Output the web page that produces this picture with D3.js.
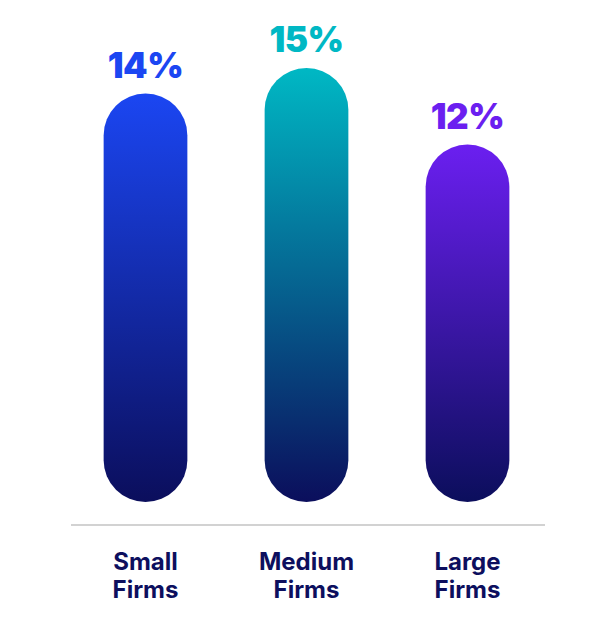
<!DOCTYPE html>
<html>
<head>
<meta charset="utf-8">
<script src="https://cdn.jsdelivr.net/npm/d3@7"></script>
<style>
	body { margin: 0; background: #ffffff; }
	svg { display: block; }
</style>
</head>
<body>
<div id="chart"></div>
<script>
// chart data
const categories = ["Small Firms", "Medium Firms", "Large Firms"];
const values = [14, 15, 12];
const topColors = ["#1b46f2", "#00b8c4", "#6b1ff0"];
const bottomColor = "#0b0e5c";

// set the dimensions of the graph
let width = 616,
	height = 630;

var svg = d3.select("#chart")
	.append("svg")
	.attr("width", width)
	.attr("height", height);

// X scale: one band per category
var x = d3.scaleBand()
	.domain(categories)
	.range([65, 548])
	.paddingInner(0.48)
	.paddingOuter(0.24);

// Y scale (bars rise from the bottom)
var y = d3.scaleLinear()
	.domain([-2, 15])
	.range([502, 68]);

// vertical gradients, one per bar
var defs = svg.append("defs");
categories.forEach(function(c, i) {
	let g = defs.append("linearGradient")
		.attr("id", "grad" + i)
		.attr("x1", 0).attr("y1", 0)
		.attr("x2", 0).attr("y2", 1);
	g.append("stop").attr("offset", "0%").attr("stop-color", topColors[i]);
	g.append("stop").attr("offset", "100%").attr("stop-color", bottomColor);
});

// rounded pill bars
svg.selectAll("rect.bar")
	.data(values)
	.enter()
	.append("rect")
		.attr("class", "bar")
		.attr("x", (d, i) => x(categories[i]))
		.attr("width", x.bandwidth())
		.attr("y", d => y(d))
		.attr("height", d => y(-2) - y(d))
		.attr("rx", x.bandwidth() / 2)
		.attr("ry", x.bandwidth() / 2)
		.attr("fill", (d, i) => "url(#grad" + i + ")");

// value labels above bars
svg.selectAll("text.value")
	.data(values)
	.enter()
	.append("text")
		.attr("class", "value")
		.attr("x", (d, i) => x(categories[i]) + x.bandwidth() / 2)
		.attr("y", d => y(d) - 16)
		.attr("text-anchor", "middle")
		.style("font-family", "Inter, 'Noto Sans', sans-serif")
		.style("font-weight", 900)
		.style("font-size", "35px")
		.style("letter-spacing", "-0.5px")
		.style("fill", (d, i) => topColors[i])
		.text(d => d + "%");

// baseline
svg.append("line")
	.attr("x1", 71)
	.attr("x2", 545)
	.attr("y1", 525)
	.attr("y2", 525)
	.style("stroke", "#d2d2d2")
	.style("stroke-width", 2);

// category labels on two lines
var labels = svg.selectAll("text.cat")
	.data(categories)
	.enter()
	.append("text")
		.attr("class", "cat")
		.attr("x", d => x(d) + x.bandwidth() / 2)
		.attr("y", 570)
		.attr("text-anchor", "middle")
		.style("font-family", "Inter, 'Noto Sans', sans-serif")
		.style("font-weight", 700)
		.style("font-size", "24px")
		.style("fill", "#0d0f5e");

labels.selectAll("tspan")
	.data(d => d.split(" "))
	.enter()
	.append("tspan")
		.attr("x", function() { return d3.select(this.parentNode).attr("x"); })
		.attr("dy", (d, i) => i === 0 ? 0 : 28)
		.text(d => d);
</script>
</body>
</html>
